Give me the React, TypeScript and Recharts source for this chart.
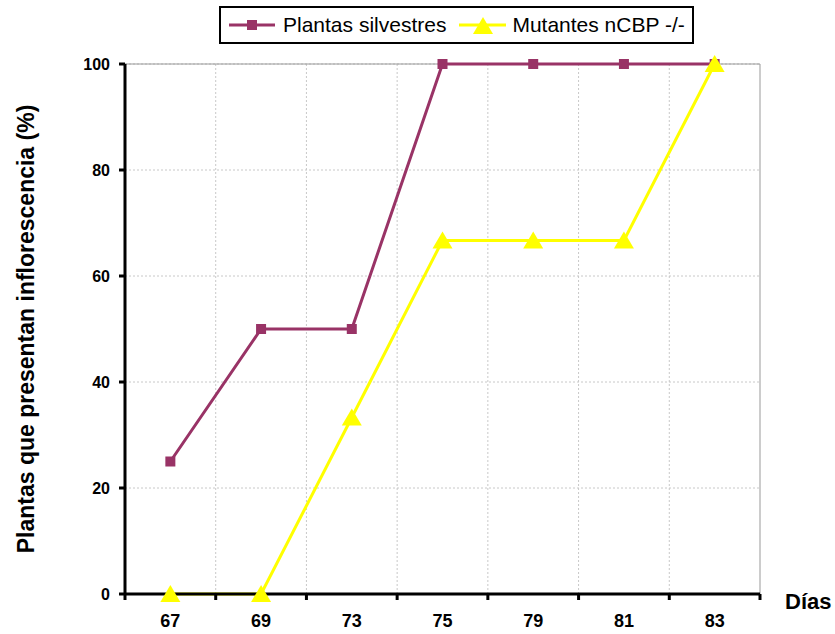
import React from 'react';
import { LineChart, Line, XAxis, YAxis, CartesianGrid } from 'recharts';

const dias = ['67', '69', '73', '75', '79', '81', '83'];
const silvestres = [25, 50, 50, 100, 100, 100, 100];
const mutantes = [0, 0, 33.3, 66.7, 66.7, 66.7, 100];
const yTicks = [0, 20, 40, 60, 80, 100];

const data = dias.map((d, i) => ({ dia: d, silvestres: silvestres[i], mutantes: mutantes[i] }));

const W = 835;
const H = 634;
const M = { top: 64, right: 75, bottom: 0, left: 0 };
const Y_W = 125;
const X_H = 40;
const PLOT_L = M.left + Y_W;
const PLOT_R = W - M.right;
const PLOT_T = M.top;
const BW = (PLOT_R - PLOT_L) / dias.length;

const PURPLE = '#993366';
const YELLOW = '#ffff00';
const FONT = 'Arial, "Liberation Sans", sans-serif';

const innerV = dias.slice(1).map((_, i) => PLOT_L + (i + 1) * BW);

const SquareDot = (props: any) => {
  const { cx, cy } = props;
  if (cx == null || cy == null) return null;
  return <rect x={cx - 5} y={cy - 5} width={10} height={10} fill={PURPLE} />;
};

const TriangleDot = (props: any) => {
  const { cx, cy } = props;
  if (cx == null || cy == null) return null;
  return <polygon points={`${cx},${cy - 9} ${cx - 10},${cy + 8} ${cx + 10},${cy + 8}`} fill={YELLOW} />;
};

const XTick = (props: any) => {
  const { x, y, payload, index } = props;
  return (
    <g>
      <line x1={x - BW / 2} y1={y} x2={x - BW / 2} y2={y + 6} stroke="#000" strokeWidth={3} />
      {index === dias.length - 1 && (
        <line x1={x + BW / 2} y1={y} x2={x + BW / 2} y2={y + 6} stroke="#000" strokeWidth={3} />
      )}
      <text x={x} y={y + 33} textAnchor="middle" fontFamily={FONT} fontWeight="bold" fontSize={18} fill="#000">
        {payload.value}
      </text>
    </g>
  );
};

const LegendBox = () => (
  <div
    style={{
      position: 'absolute',
      left: 219,
      top: 6,
      width: 471,
      height: 34,
      border: '2px solid #000',
      background: '#fff',
      display: 'flex',
      alignItems: 'center',
      fontFamily: FONT,
      fontSize: 21,
      color: '#000',
      whiteSpace: 'nowrap',
    }}
  >
    <svg width={46} height={20} style={{ marginLeft: 8 }}>
      <line x1={0} y1={10} x2={46} y2={10} stroke={PURPLE} strokeWidth={3} />
      <rect x={18} y={5} width={10} height={10} fill={PURPLE} />
    </svg>
    <span style={{ marginLeft: 8 }}>Plantas silvestres</span>
    <svg width={47} height={20} style={{ marginLeft: 13 }}>
      <line x1={0} y1={10} x2={47} y2={10} stroke={YELLOW} strokeWidth={3} />
      <polygon points="24,2 14,19 34,19" fill={YELLOW} />
    </svg>
    <span style={{ marginLeft: 6 }}>Mutantes nCBP -/-</span>
  </div>
);

export default function App() {
  return (
    <div style={{ position: 'fixed', left: 0, top: 0, width: W, height: H, background: '#fff' }}>
      <LineChart width={W} height={H} data={data} margin={M}>
        <CartesianGrid stroke="#c8c8c8" strokeDasharray="2 2" verticalPoints={innerV} />
        <CartesianGrid stroke="#999" horizontalPoints={[PLOT_T]} verticalPoints={[PLOT_R]} />
        <XAxis
          dataKey="dia"
          height={X_H}
          padding={{ left: BW / 2, right: BW / 2 }}
          stroke="#000"
          tickSize={0}
          tickMargin={0}
          tickLine={false}
          axisLine={{ stroke: '#000', strokeWidth: 3 }}
          tick={<XTick />}
          interval={0}
          label={{
            content: (p: any) => {
              const vb = p.viewBox;
              return (
                <text x={vb.x + vb.width + 25} y={vb.y + 15} fontFamily={FONT} fontWeight="bold" fontSize={22} fill="#000">
                  Días
                </text>
              );
            },
          }}
        />
        <YAxis
          width={Y_W}
          domain={[0, 100]}
          ticks={yTicks}
          interval={0}
          stroke="#000"
          tickSize={6}
          tickMargin={9}
          tickLine={{ stroke: '#000', strokeWidth: 3 }}
          axisLine={{ stroke: '#000', strokeWidth: 3 }}
          tick={{ fontFamily: FONT, fontWeight: 'bold', fontSize: 16, fill: '#000' }}
          label={{
            content: (p: any) => {
              const vb = p.viewBox;
              const cy = vb.y + vb.height / 2;
              return (
                <text
                  x={26}
                  y={cy}
                  transform={`rotate(-90, 26, ${cy})`}
                  textAnchor="middle"
                  dominantBaseline="central"
                  fontFamily={FONT}
                  fontWeight="bold"
                  fontSize={23}
                  fill="#000"
                >
                  Plantas que presentan inflorescencia (%)
                </text>
              );
            },
          }}
        />
        <Line
          type="linear"
          dataKey="silvestres"
          stroke={PURPLE}
          strokeWidth={3}
          dot={<SquareDot />}
          activeDot={false}
          isAnimationActive={false}
        />
        <Line
          type="linear"
          dataKey="mutantes"
          stroke={YELLOW}
          strokeWidth={3}
          dot={<TriangleDot />}
          activeDot={false}
          isAnimationActive={false}
        />
      </LineChart>
      <LegendBox />
    </div>
  );
}
